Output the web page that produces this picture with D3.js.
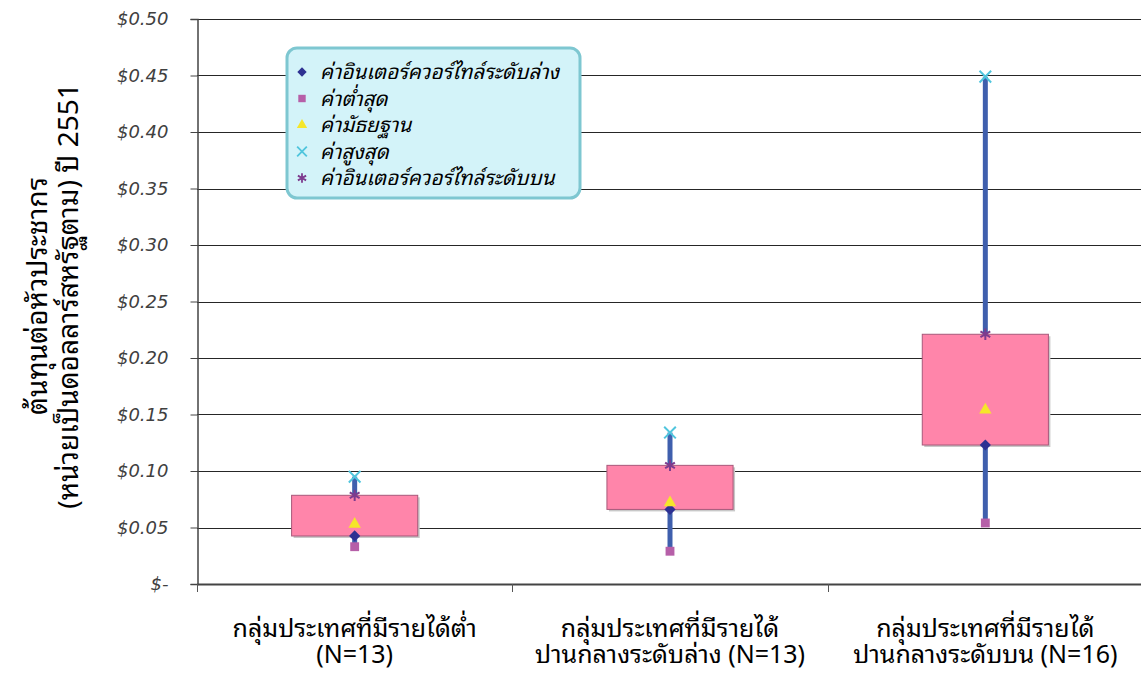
<!DOCTYPE html>
<html><head><meta charset="utf-8">
<script src="https://cdn.jsdelivr.net/npm/d3@7"></script>
<style>
body{margin:0;background:#fff;}
svg{display:block;}
</style></head>
<body>
<svg id="chart" width="1141" height="673"></svg>
<script>
const categories = [
  ["กลุ่มประเทศที่มีรายได้ต่ำ", "(N=13)"],
  ["กลุ่มประเทศที่มีรายได้", "ปานกลางระดับล่าง (N=13)"],
  ["กลุ่มประเทศที่มีรายได้", "ปานกลางระดับบน (N=16)"]
];
const minVals = [0.033, 0.029, 0.054];
const q1Vals = [0.0425, 0.066, 0.123];
const medianVals = [0.053, 0.072, 0.154];
const q3Vals = [0.0785, 0.105, 0.221];
const maxVals = [0.095, 0.134, 0.449];
const yTicks = [0, 0.05, 0.10, 0.15, 0.20, 0.25, 0.30, 0.35, 0.40, 0.45, 0.50];
const yTickLabels = ["$-", "$0.05", "$0.10", "$0.15", "$0.20", "$0.25", "$0.30", "$0.35", "$0.40", "$0.45", "$0.50"];
const legendLabels = ["ค่าอินเตอร์ควอร์ไทล์ระดับล่าง", "ค่าต่ำสุด", "ค่ามัธยฐาน", "ค่าสูงสุด", "ค่าอินเตอร์ควอร์ไทล์ระดับบน"];
const yTitle = ["ต้นทุนต่อหัวประชากร", "(หน่วยเป็นดอลลาร์สหรัฐตาม) ปี 2551"];

const svg = d3.select("#chart");
const thaiFont = "'Noto Sans Thai Looped', Tahoma, 'Noto Sans Thai', 'Noto Sans', 'DejaVu Sans', sans-serif";
const L = 197, R = 1143, T = 19, B = 584;

const x = d3.scaleBand().domain(d3.range(categories.length)).range([L, R]).paddingInner(0).paddingOuter(0);
const y = d3.scaleLinear().domain([0, 0.5]).range([B, T]);

// gridlines
svg.append("g").selectAll("line").data(yTicks.filter(d => d > 0)).join("line")
  .attr("x1", L).attr("x2", 1141).attr("y1", d => Math.round(y(d)) + 0.5).attr("y2", d => Math.round(y(d)) + 0.5)
  .attr("stroke", "#262626").attr("stroke-width", 1);

// y axis
const yAxis = d3.axisLeft(y).tickValues(yTicks).tickSize(7).tickFormat((d, i) => yTickLabels[i]);
const gy = svg.append("g").attr("transform", `translate(${L + 0.5},0)`).call(yAxis);
gy.select(".domain").attr("stroke", "#444").attr("stroke-width", 1.5);
gy.selectAll(".tick line").attr("stroke", "#444");
gy.selectAll(".tick text").attr("x", -29).attr("font-family", "'DejaVu Sans', Verdana, sans-serif")
  .attr("font-style", "italic").attr("font-size", 18).attr("fill", "#404040");

// x axis
const xAxis = d3.axisBottom(x).tickSize(0).tickFormat("");
const gx = svg.append("g").attr("transform", `translate(0,${B})`).call(xAxis);
gx.select(".domain").attr("stroke", "#444").attr("stroke-width", 2);
// category boundary ticks
svg.append("g").selectAll("line").data(d3.range(categories.length + 1)).join("line")
  .attr("x1", i => Math.round(L + i * x.bandwidth()) + 0.5).attr("x2", i => Math.round(L + i * x.bandwidth()) + 0.5)
  .attr("y1", B).attr("y2", B + 8).attr("stroke", "#555");

// x labels (two separate lines)
[0, 1].forEach(line => {
  svg.append("g").selectAll("text").data(categories).join("text")
    .attr("x", (d, i) => x(i) + x.bandwidth() / 2).attr("y", line === 0 ? 637 : 663)
    .attr("text-anchor", "middle").attr("font-family", thaiFont).attr("font-size", 25).attr("fill", "#000")
    .text(d => d[line]);
});

// y title
const yt = svg.append("text").attr("transform", "translate(47,296) rotate(-90)")
  .attr("text-anchor", "middle").attr("font-family", thaiFont).attr("font-size", 28).attr("fill", "#000");
yt.append("tspan").attr("x", 0).attr("dy", 0).text(yTitle[0]);
yt.append("tspan").attr("x", 0).attr("dy", 31).text(yTitle[1]);

const idx = d3.range(categories.length);
const cx = i => x(i) + x.bandwidth() / 2;
const bw = x.bandwidth() * 0.4;

// whiskers
svg.append("g").selectAll("line").data(idx).join("line")
  .attr("x1", cx).attr("x2", cx).attr("y1", i => y(minVals[i])).attr("y2", i => y(maxVals[i]))
  .attr("stroke", "#3f5fad").attr("stroke-width", 5);

// boxes (shadow + box)
const boxes = svg.append("g");
boxes.selectAll("rect.sh").data(idx).join("rect").attr("class", "sh")
  .attr("x", i => cx(i) - bw / 2 + 2).attr("y", i => y(q3Vals[i]) + 2)
  .attr("width", bw).attr("height", i => y(q1Vals[i]) - y(q3Vals[i]))
  .attr("fill", "#c8c8c8");
boxes.selectAll("rect.bx").data(idx).join("rect").attr("class", "bx")
  .attr("x", i => cx(i) - bw / 2).attr("y", i => y(q3Vals[i]))
  .attr("width", bw).attr("height", i => y(q1Vals[i]) - y(q3Vals[i]))
  .attr("fill", "#ff85aa").attr("stroke", "#a8587a").attr("stroke-width", 1);

// markers
const sym = {
  diamond: d3.symbol().type(d3.symbolDiamond2),
  square: d3.symbol().type(d3.symbolSquare2),
  triangle: d3.symbol().type(d3.symbolTriangle2),
  cross: d3.symbol().type(d3.symbolX),
  star: d3.symbol().type(d3.symbolAsterisk)
};
const series = [
  {vals: q1Vals, type: "diamond", color: "#2e3192", size: 80},
  {vals: minVals, type: "square", color: "#b65fa8", size: 100},
  {vals: medianVals, type: "triangle", color: "#f5e62a", size: 110},
  {vals: maxVals, type: "cross", color: "#4fc5dd", size: 90},
  {vals: q3Vals, type: "star", color: "#7d3b8e", size: 90}
];
const stroked = t => t === "cross" || t === "star";
series.forEach(s => {
  svg.append("g").selectAll("path").data(idx).join("path")
    .attr("transform", i => `translate(${cx(i)},${y(s.vals[i])})`)
    .attr("d", sym[s.type].size(s.size)())
    .attr("fill", stroked(s.type) ? "none" : s.color)
    .attr("stroke", stroked(s.type) ? s.color : "none")
    .attr("stroke-width", stroked(s.type) ? 2 : 0);
});

// legend
const lg = svg.append("g");
lg.append("rect").attr("x", 287).attr("y", 48).attr("width", 293).attr("height", 150).attr("rx", 10)
  .attr("fill", "#d3f3f9").attr("stroke", "#7ec7d1").attr("stroke-width", 3);
const rowY = i => 72 + i * 26.5;
series.forEach((s, i) => {
  lg.append("path").attr("transform", `translate(302,${rowY(i)})`)
    .attr("d", sym[s.type].size(s.size * 0.7)())
    .attr("fill", stroked(s.type) ? "none" : s.color)
    .attr("stroke", stroked(s.type) ? s.color : "none")
    .attr("stroke-width", stroked(s.type) ? 1.8 : 0);
  lg.append("text").attr("x", 320).attr("y", rowY(i) + 7).text(legendLabels[i])
    .attr("font-family", thaiFont).attr("font-style", "italic").attr("font-size", 20.5).attr("fill", "#000");
});
</script>
</body></html>
